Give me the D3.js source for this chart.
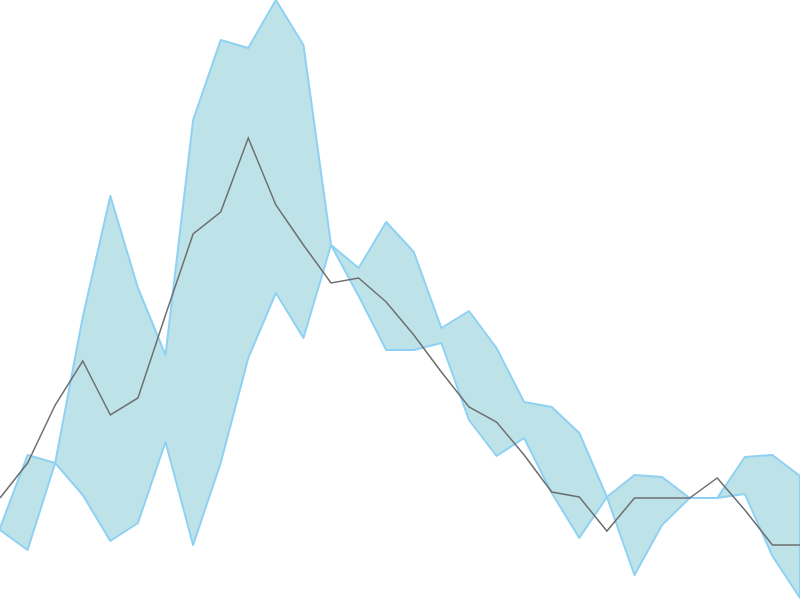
<!DOCTYPE html>
<html><head><meta charset="utf-8">
<script src="https://cdn.jsdelivr.net/npm/d3@7"></script>
<style>html,body{margin:0;padding:0;background:#fff;overflow:hidden}</style>
</head><body>
<svg id="chart" width="800" height="600"></svg>
<script>
const upperValues = [72,145,137,283,404,312,245,480,560,552,600,555,355,332,378,348,272,289,252,198,193,167,103,125,123,102,102,143,145,124];
const lowerValues = [70,50,137,105,59,77,158,55,137,242,307,262,355,304,250,250,257,180,144,162,107,62,103,25,75,102,102,106,44,2];
const lineValues  = [102,137,195,239,185,202,285,366,388,462,395,355,317,322,298,265,228,193,178,145,108,103,69,102,102,102,122,90,55,55];
const indices = d3.range(upperValues.length);

const W = 800, H = 600;
const svg = d3.select("#chart");
const x = d3.scaleLinear().domain([0, indices.length - 1]).range([0, W]);
const y = d3.scaleLinear().domain([0, 600]).range([H, 0]);

const band = d3.area()
  .x(i => x(i))
  .y0(i => y(lowerValues[i]))
  .y1(i => y(upperValues[i]))
  .curve(d3.curveLinear);

svg.append("path")
  .datum(indices)
  .attr("d", band)
  .attr("fill", "#bde3e8")
  .attr("stroke", "#8fd1f3")
  .attr("stroke-width", 2)
  .attr("stroke-linejoin", "round");

const line = d3.line()
  .x(i => x(i))
  .y(i => y(lineValues[i]))
  .curve(d3.curveLinear);

svg.append("path")
  .datum(indices)
  .attr("d", line)
  .attr("fill", "none")
  .attr("stroke", "#6e6e6e")
  .attr("stroke-width", 1.5);
</script>
</body></html>
